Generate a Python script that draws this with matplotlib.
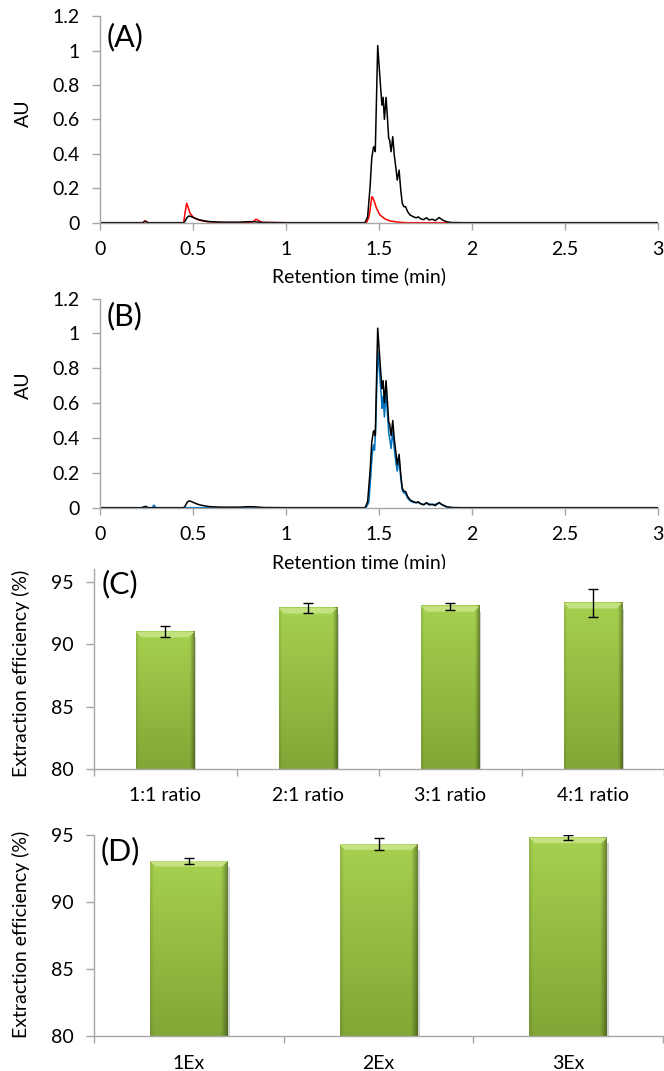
import numpy as np
import matplotlib.pyplot as plt
from matplotlib.colors import to_rgb
from matplotlib.patches import Polygon, Rectangle
from matplotlib.ticker import FormatStrFormatter

plt.rcParams['font.family'] = ['Lato', 'DejaVu Sans']

# chromatograms: retention time (min) and absorbance (AU)
t_black = [0, 0.23, 0.245, 0.26, 0.45, 0.458, 0.468, 0.478, 0.49, 0.502, 0.52, 0.537, 0.56,
           0.591, 0.63, 0.663, 0.75, 0.78, 0.806, 0.83, 0.878, 1.0, 1.3, 1.425, 1.439, 1.452,
           1.461, 1.470, 1.475, 1.480, 1.493, 1.504, 1.513, 1.516, 1.522, 1.529, 1.538, 1.545,
           1.552, 1.557, 1.565, 1.574, 1.582, 1.591, 1.598, 1.608, 1.617, 1.625, 1.634, 1.643,
           1.654, 1.667, 1.684, 1.70, 1.71, 1.725, 1.74, 1.756, 1.769, 1.788, 1.802, 1.823,
           1.841, 1.864, 1.891, 1.95, 2.5, 3.0]
au_black = [0, 0, 0.008, 0, 0, 0.01, 0.03, 0.039, 0.036, 0.03, 0.022, 0.016, 0.011,
            0.006, 0.004, 0.003, 0.003, 0.005, 0.006, 0.005, 0.001, 0, 0, 0, 0.035, 0.209,
            0.374, 0.438, 0.442, 0.413, 1.03, 0.859, 0.723, 0.684, 0.729, 0.601, 0.729, 0.616,
            0.491, 0.481, 0.413, 0.5, 0.394, 0.316, 0.248, 0.306, 0.19, 0.113, 0.093, 0.093,
            0.064, 0.045, 0.035, 0.028, 0.034, 0.022, 0.018, 0.029, 0.016, 0.02, 0.012, 0.03,
            0.016, 0.005, 0.001, 0, 0, 0]

t_red = [0, 0.23, 0.242, 0.255, 0.45, 0.456, 0.466, 0.475, 0.484, 0.502, 0.529, 0.573,
         0.627, 0.7, 0.815, 0.83, 0.839, 0.85, 0.869, 1.0, 1.3, 1.432, 1.445, 1.452, 1.461,
         1.466, 1.475, 1.487, 1.505, 1.532, 1.559, 1.604, 1.65, 2.0, 3.0]
au_red = [0, 0, 0.012, 0, 0, 0.05, 0.113, 0.085, 0.055, 0.031, 0.016, 0.006,
          0.002, 0, 0.002, 0.012, 0.02, 0.014, 0.002, 0, 0, 0, 0.03, 0.074, 0.151,
          0.147, 0.122, 0.083, 0.045, 0.022, 0.01, 0.003, 0, 0, 0]

t_blue = [0, 0.225, 0.235, 0.25, 0.28, 0.29, 0.30, 1.0, 1.3, 1.43, 1.445, 1.455, 1.463,
          1.470, 1.476, 1.482, 1.493, 1.504, 1.513, 1.516, 1.522, 1.529, 1.538, 1.545, 1.552,
          1.557, 1.565, 1.574, 1.582, 1.591, 1.598, 1.608, 1.617, 1.625, 1.634, 1.643, 1.654,
          1.667, 1.684, 1.71, 1.74, 1.756, 1.79, 1.823, 1.864, 1.9, 3.0]
au_blue = [0, 0, 0.006, 0, 0, 0.015, 0, 0, 0, 0, 0.03, 0.17, 0.30,
           0.36, 0.33, 0.45, 0.90, 0.76, 0.63, 0.57, 0.64, 0.52, 0.66, 0.55, 0.43,
           0.40, 0.34, 0.44, 0.34, 0.26, 0.21, 0.28, 0.17, 0.10, 0.085, 0.08, 0.055,
           0.04, 0.03, 0.03, 0.016, 0.026, 0.016, 0.026, 0.004, 0, 0]

# extraction efficiency (%) vs. ratio and number of extractions
ratio_labels = ['1:1 ratio', '2:1 ratio', '3:1 ratio', '4:1 ratio']
ratio_eff = [91.0, 92.9, 93.05, 93.3]
ratio_err = [0.45, 0.43, 0.27, 1.13]

ex_labels = ['1Ex', '2Ex', '3Ex']
ex_eff = [93.05, 94.3, 94.8]
ex_err = [0.23, 0.45, 0.2]

W, H = 664, 1071
GRAY = '#a6a6a6'
FS = 14

fig = plt.figure(figsize=(W / 100, H / 100), dpi=100)


def px_axes(left, right, top, bottom):
    # axes box given in pixel coordinates of the figure
    return fig.add_axes([left / W, 1 - bottom / H, (right - left) / W, (bottom - top) / H])


def base_style(ax):
    for s in ['top', 'right']:
        ax.spines[s].set_visible(False)
    for s in ['left', 'bottom']:
        ax.spines[s].set_color(GRAY)
        ax.spines[s].set_linewidth(1.0)
    ax.tick_params(axis='y', direction='out', length=5.5, width=1, color=GRAY,
                   labelsize=FS, pad=9)
    ax.tick_params(axis='x', direction='out', length=5, width=1, color=GRAY,
                   labelsize=FS, pad=8)


def chromatogram(ax, traces, label_y):
    for t, au, c in traces:
        ax.plot(t, au, color=c, lw=1.1, solid_joinstyle='round')
    ax.set_xlim(0, 3)
    ax.set_ylim(0, 1.2)
    ax.set_xticks(np.arange(0, 3.01, 0.5))
    ax.set_yticks(np.arange(0, 1.21, 0.2))
    ax.xaxis.set_major_formatter(FormatStrFormatter('%g'))
    ax.yaxis.set_major_formatter(FormatStrFormatter('%g'))
    base_style(ax)
    ax.set_xlabel('Retention time (min)', fontsize=FS)
    ax.xaxis.label.set_verticalalignment('center')
    ax.xaxis.set_label_coords(0.464, -0.26)
    ax.set_ylabel('AU', fontsize=FS)
    ax.yaxis.label.set_verticalalignment('center')
    ax.yaxis.set_label_coords(-0.138, label_y)


def green_bar(ax, rect, bevel_h, bevel_w):
    x0, y0 = rect.get_x(), rect.get_y()
    x1, y1 = x0 + rect.get_width(), y0 + rect.get_height()
    nx, ny = 60, 80
    u = np.linspace(0, 1, nx)
    w = np.linspace(0, 1, ny)[:, None, None]
    top_c = np.array(to_rgb('#a6d04f'))
    bot_c = np.array(to_rgb('#82a736'))
    col = top_c * (1 - w) + bot_c * w
    shade = 1 - 0.35 * np.clip((u - 0.92) / 0.08, 0, 1) - 0.1 * np.clip((0.05 - u) / 0.05, 0, 1)
    img = col * shade[None, :, None]
    ax.add_patch(Rectangle((x1, y0), rect.get_width() * 0.03, y1 - y0 - bevel_h,
                           color='#d2d2d2', lw=0, zorder=1.5))
    ax.imshow(img, extent=(x0, x1, y0, y1), aspect='auto', zorder=2,
              interpolation='bilinear')
    ax.add_patch(Polygon([(x0, y1), (x1, y1), (x1 - bevel_w, y1 - bevel_h),
                          (x0 + bevel_w, y1 - bevel_h)],
                         closed=True, color='#c4e27f', lw=0, zorder=2.5))


def bar_panel(ax, labels, vals, errs, ytop, lab_pad, label_y):
    pos = np.arange(len(labels))
    bars = ax.bar(pos, [v - 80 for v in vals], bottom=80, width=0.41, color='none',
                  edgecolor='none')
    px_per_unit = ax.bbox.height / (ytop - 80)
    px_per_cat = ax.bbox.width / len(labels)
    for r in bars:
        green_bar(ax, r, 5.5 / px_per_unit, 5.5 / px_per_cat)
    ax.errorbar(pos, vals, yerr=errs, fmt='none', ecolor='black', elinewidth=1.0,
                capsize=3.5, capthick=1.0, zorder=3)
    ax.set_xlim(-0.5, len(labels) - 0.5)
    ax.set_ylim(80, ytop)
    ax.set_yticks([80, 85, 90, 95])
    base_style(ax)
    ax.set_xticks(pos)
    ax.set_xticklabels(labels)
    ax.set_xticks(np.arange(-0.5, len(labels)), minor=True)
    ax.tick_params(axis='x', which='major', length=0, pad=lab_pad)
    ax.tick_params(axis='x', which='minor', length=5, width=1, color=GRAY)
    ax.set_ylabel('Extraction efficiency (%)', fontsize=FS)
    ax.yaxis.label.set_verticalalignment('center')
    ax.yaxis.set_label_coords(-0.128, label_y)


axA = px_axes(100, 658, 16.3, 222.7)
chromatogram(axA, [(t_red, au_red, '#ff0000'), (t_black, au_black, 'black')], 0.53)

axB = px_axes(100, 658, 298.5, 507.7)
chromatogram(axB, [(t_blue, au_blue, '#0070c0'), (t_black, au_black, 'black')], 0.587)

axC = px_axes(94, 664, 569.3, 769.3)
bar_panel(axC, ratio_labels, ratio_eff, ratio_err, 96, 12.5, 0.48)

axD = px_axes(94, 663, 835, 1036)
bar_panel(axD, ex_labels, ex_eff, ex_err, 95, 13.5, 0.507)

for lab, x, y in [('(A)', 125, 37), ('(B)', 125, 316), ('(C)', 120, 584), ('(D)', 120, 851)]:
    fig.text(x / W, 1 - y / H, lab, fontsize=22, ha='center', va='center')

fig.savefig('out.png', dpi=100)
